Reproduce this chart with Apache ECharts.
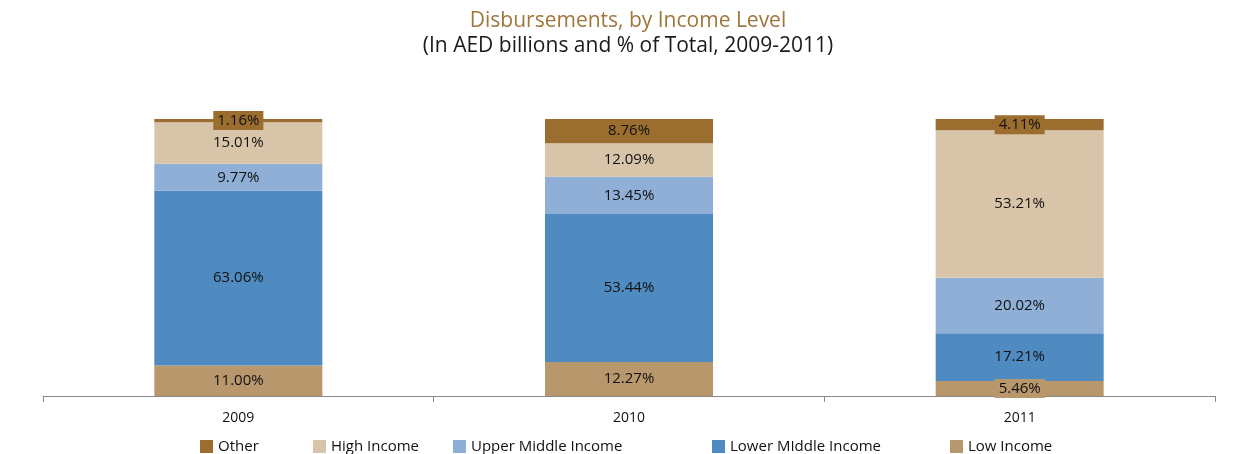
<!DOCTYPE html>
<html><head><meta charset="utf-8">
<script src="https://cdn.jsdelivr.net/npm/echarts@6/dist/echarts.min.js"></script>
<style>html,body{margin:0;padding:0;background:#fff}#c{width:1256px;height:454px}</style>
</head><body><div id="c"></div>
<script>
const years = ['2009', '2010', '2011'];
const seriesNames = ['Low Income', 'Lower MIddle Income', 'Upper Middle Income', 'High Income', 'Other'];
const lowIncome = [11.00, 12.27, 5.46];
const lowerMiddle = [63.06, 53.44, 17.21];
const upperMiddle = [9.77, 13.45, 20.02];
const highIncome = [15.01, 12.09, 53.21];
const other = [1.16, 8.76, 4.11];
const colors = ['#B8976C', '#4F8BC0', '#8FAFD6', '#D8C4A9', '#9B6D2F'];
const legendOrder = ['Other', 'High Income', 'Upper Middle Income', 'Lower MIddle Income', 'Low Income'];
const legendLeft = [200, 313, 453, 712, 950];

const values = [lowIncome, lowerMiddle, upperMiddle, highIncome, other];
const FONT = '"Open Sans", "Noto Sans", sans-serif';

const series = seriesNames.map((n, i) => ({
  name: n, type: 'bar', stack: 'total', barWidth: 168,
  data: values[i], itemStyle: { color: colors[i] },
  label: {
    show: true, position: 'inside', color: '#111', fontSize: 15, fontFamily: FONT,
    backgroundColor: colors[i], padding: [2, 4],
    formatter: p => p.value.toFixed(2) + '%'
  }
}));

const legends = legendOrder.map((n, i) => ({
  data: [n], left: legendLeft[i], top: 439, padding: 0, itemWidth: 13, itemHeight: 13, icon: 'rect',
  itemGap: 0, textStyle: { fontSize: 15, color: '#111', fontFamily: FONT }
}));

const chart = echarts.init(document.getElementById('c'));
chart.setOption({
  animation: false,
  title: [
    { text: 'Disbursements, by Income Level', left: 'center', top: 6,
      textStyle: { fontSize: 21, fontWeight: 'normal', color: '#A0763A', fontFamily: FONT } },
    { text: '(In AED billions and % of Total, 2009-2011)', left: 'center', top: 31,
      textStyle: { fontSize: 21, fontWeight: 'normal', color: '#1a1a1a', fontFamily: FONT } }
  ],
  legend: legends,
  grid: { left: 43, right: 41, top: 119, bottom: 58 },
  xAxis: {
    type: 'category', data: years,
    axisLine: { lineStyle: { color: '#888' } },
    axisTick: { show: true, length: 6, lineStyle: { color: '#888' } },
    axisLabel: { fontSize: 14, color: '#111', margin: 15, fontFamily: FONT }
  },
  yAxis: { type: 'value', min: 0, max: 100, show: false, splitLine: { show: false } },
  series: series
});
</script></body></html>
